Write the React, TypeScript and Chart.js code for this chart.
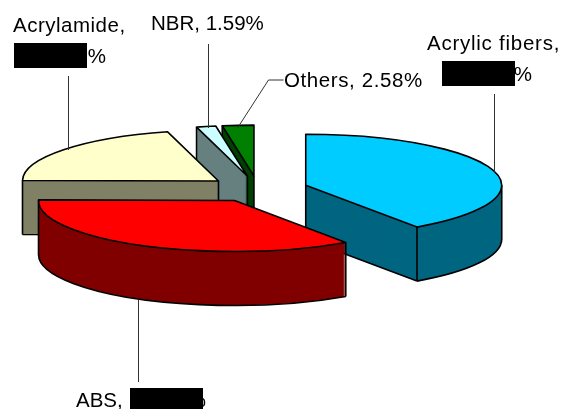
import React, { useEffect, useRef } from "react";
import { Chart, registerables } from "chart.js";

Chart.register(...registerables);

const categories = ["Acrylic fibers", "ABS", "Acrylamide", "NBR", "Others"];
const shares = [40.3, 34.7, 20.6, 1.59, 2.58];
const labelTexts = [
  "Acrylamide,",
  "20.6%",
  "NBR, 1.59%",
  "Others, 2.58%",
  "Acrylic fibers,",
  "40.3%",
  "ABS,",
  "34.7%",
];

const topColors = ["#00CCFF", "#FF0000", "#FFFFCC", "#CCFFFF", "#008000"];
const sideColors = ["#006680", "#800000", "#808066", "#668080", "#004000"];
const paintOrder = [4, 3, 2, 0, 1];

const CX = 258;
const CY = 189;
const SQUASH = 0.26;
const EXPLODE = 50;
const DEPTH = 54;
const LINE = 1.6;

// x, baseline y, align, letter spacing for each entry of labelTexts
const labelLayout: [number, number, CanvasTextAlign, number][] = [
  [13, 32, "left", 0.5],
  [106, 63, "right", 0],
  [151, 30, "left", 0],
  [284, 87, "left", 0.6],
  [427, 50, "left", 0.75],
  [532, 81, "right", 0],
  [76, 407, "left", 0],
  [206, 407, "right", 0],
];
const leaderPaths: number[][][] = [
  [[68, 76], [68, 150]],
  [[208, 44], [208, 128]],
  [[283, 80], [268, 80], [237, 128]],
  [[494, 94], [494, 173]],
  [[138, 300], [138, 382]],
];
const redactionBoxes = [
  [14, 43, 73, 25],
  [442, 61, 73, 25],
  [130, 388, 73, 21],
];

const piePlugin = {
  id: "tiltedPie",
  beforeDatasetsDraw(chart: any) {
    const ctx: CanvasRenderingContext2D = chart.ctx;
    const arcs = chart.getDatasetMeta(0).data;

    for (const i of paintOrder) {
      const arc = arcs[i];
      const { startAngle: a, endAngle: b, outerRadius: R } = arc;
      const mid = (a + b) / 2;
      const ox = EXPLODE * Math.cos(mid);
      const oy = EXPLODE * Math.sin(mid);
      const ax = CX + ox;
      const ay = CY + SQUASH * oy;

      const paint = (color: string, dy: number) => {
        const saved = arc.options;
        arc.options = { ...saved, backgroundColor: color };
        ctx.save();
        ctx.translate(CX + ox, CY + SQUASH * oy + dy);
        ctx.scale(1, SQUASH);
        ctx.translate(-arc.x, -arc.y);
        arc.draw(ctx);
        ctx.restore();
        arc.options = saved;
      };

      for (let d = DEPTH; d > 0; d -= 1) paint(sideColors[i], d);

      ctx.save();
      ctx.strokeStyle = "#000";
      ctx.lineWidth = LINE;
      ctx.lineJoin = "round";
      const px = (t: number) => ax + R * Math.cos(t);
      const py = (t: number) => ay + SQUASH * R * Math.sin(t);
      const verticals: [number, number][] = [];
      ctx.beginPath();
      if (Math.cos(a) < -1e-6) {
        ctx.moveTo(ax, ay + DEPTH);
        ctx.lineTo(px(a), py(a) + DEPTH);
        verticals.push([ax, ay], [px(a), py(a)]);
      }
      if (Math.cos(b) > 1e-6) {
        ctx.moveTo(ax, ay + DEPTH);
        ctx.lineTo(px(b), py(b) + DEPTH);
        verticals.push([ax, ay], [px(b), py(b)]);
      }
      const from = Math.max(a, 0);
      const to = Math.min(b, Math.PI);
      if (to > from) {
        ctx.moveTo(px(from), py(from) + DEPTH);
        ctx.ellipse(ax, ay + DEPTH, R, SQUASH * R, 0, from, to);
        verticals.push([px(from), py(from)], [px(to), py(to)]);
      }
      for (const [x, y] of verticals) {
        ctx.moveTo(x, y);
        ctx.lineTo(x, y + DEPTH);
      }
      ctx.stroke();

      paint(topColors[i], 0);

      ctx.beginPath();
      ctx.moveTo(ax, ay);
      ctx.ellipse(ax, ay, R, SQUASH * R, 0, a, b);
      ctx.closePath();
      ctx.stroke();
      ctx.restore();
    }

    ctx.save();
    ctx.strokeStyle = "#333";
    ctx.lineWidth = 1;
    for (const line of leaderPaths) {
      ctx.beginPath();
      line.forEach(([x, y], n) => {
        if (n === 0) ctx.moveTo(x + 0.5, y);
        else ctx.lineTo(x + 0.5, y);
      });
      ctx.stroke();
    }
    ctx.fillStyle = "#000";
    ctx.font = '20.5px "Liberation Sans"';
    ctx.textBaseline = "alphabetic";
    labelTexts.forEach((text, n) => {
      const [x, y, align, spacing] = labelLayout[n];
      ctx.textAlign = align;
      (ctx as any).letterSpacing = `${spacing}px`;
      ctx.fillText(text, x, y);
    });
    for (const [x, y, w, h] of redactionBoxes) ctx.fillRect(x, y, w, h);
    ctx.restore();
    return false;
  },
};

export default function App() {
  const ref = useRef<HTMLCanvasElement>(null);
  useEffect(() => {
    const chart = new Chart(ref.current!, {
      type: "pie",
      data: {
        labels: categories,
        datasets: [
          {
            data: shares,
            backgroundColor: topColors,
            borderWidth: 0,
            clip: false,
          } as any,
        ],
      },
      options: {
        animation: false,
        responsive: false,
        devicePixelRatio: 1,
        radius: 196,
        plugins: { legend: { display: false }, tooltip: { enabled: false } },
      } as any,
      plugins: [piePlugin],
    });
    return () => chart.destroy();
  }, []);
  return (
    <canvas
      ref={ref}
      width={563}
      height={409}
      style={{ position: "absolute", left: 0, top: 0, width: 563, height: 409 }}
    />
  );
}
